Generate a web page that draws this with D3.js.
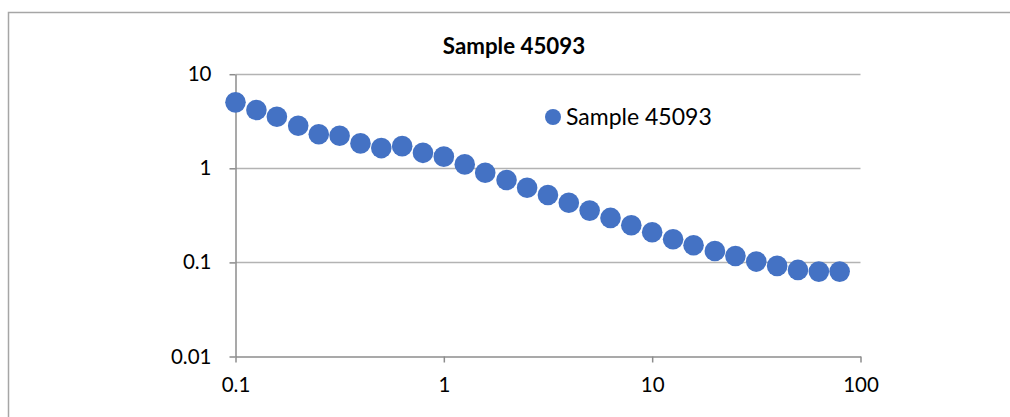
<!DOCTYPE html>
<html>
<head>
<meta charset="utf-8">
<script src="https://cdn.jsdelivr.net/npm/d3@7"></script>
<style>
  body { margin: 0; background: #fff; overflow: hidden; }
  svg { display: block; }
</style>
</head>
<body>
<div id="chart"></div>
<script>
// values
const seriesName = 'Sample 45093';
const xValues = [0.1, 0.126, 0.158, 0.2, 0.251, 0.316, 0.398, 0.501, 0.631, 0.794,
                 1, 1.26, 1.58, 2, 2.51, 3.16, 3.98, 5.01, 6.31, 7.94,
                 10, 12.6, 15.8, 20, 25.1, 31.6, 39.8, 50.1, 63.1, 79.4];
const yValues = [5.02, 4.16, 3.53, 2.83, 2.30, 2.22, 1.84, 1.64, 1.72, 1.46,
                 1.33, 1.10, 0.898, 0.751, 0.622, 0.521, 0.431, 0.355, 0.297, 0.248,
                 0.209, 0.176, 0.152, 0.132, 0.117, 0.102, 0.0918, 0.0832, 0.0798, 0.0798];
const xTicks = [0.1, 1, 10, 100];
const xTickLabels = ['0.1', '1', '10', '100'];
const yTicks = [0.01, 0.1, 1, 10];
const yTickLabels = ['0.01', '0.1', '1', '10'];

const width = 1010, height = 417;
const font = 'Lato, "Liberation Sans", sans-serif';
const blue = '#4472C4';

const svg = d3.select('#chart').append('svg')
  .attr('width', width)
  .attr('height', height);

// chart frame
svg.append('rect')
  .attr('x', 8.5).attr('y', 12.5)
  .attr('width', width).attr('height', height)
  .attr('fill', 'none')
  .attr('stroke', '#a6a6a6')
  .attr('stroke-width', 1.5);

const x = d3.scaleLog().domain([0.1, 100]).range([235.5, 860.5]);
const y = d3.scaleLog().domain([0.01, 10]).range([356.5, 74.2]);

// horizontal gridlines
svg.append('g')
  .selectAll('line')
  .data(yTicks.slice(1))
  .join('line')
  .attr('x1', x(0.1)).attr('x2', x(100))
  .attr('y1', d => Math.round(y(d)) + 0.5)
  .attr('y2', d => Math.round(y(d)) + 0.5)
  .attr('stroke', '#b3b3b3')
  .attr('stroke-width', 1.5);

// x axis
const xAxis = svg.append('g')
  .attr('transform', `translate(0,${y(0.01)})`)
  .call(d3.axisBottom(x)
    .tickValues(xTicks)
    .tickFormat((d, i) => xTickLabels[i])
    .tickSize(6)
    .tickSizeOuter(0)
    .tickPadding(15));

// y axis
const yAxis = svg.append('g')
  .attr('transform', `translate(${x(0.1)},0)`)
  .call(d3.axisLeft(y)
    .tickValues(yTicks)
    .tickFormat((d, i) => yTickLabels[i])
    .tickSize(6)
    .tickSizeOuter(0)
    .tickPadding(18));

[xAxis, yAxis].forEach(g => {
  g.select('.domain').attr('stroke', '#8c8c8c').attr('stroke-width', 1.5);
  g.selectAll('.tick line').attr('stroke', '#8c8c8c').attr('stroke-width', 1.5);
  g.selectAll('.tick text')
    .attr('fill', '#000')
    .style('font-family', font)
    .style('font-size', '20.5px');
});

// markers
const points = xValues.map((v, i) => ({ x: v, y: yValues[i] }));
svg.append('g')
  .selectAll('circle')
  .data(points)
  .join('circle')
  .attr('cx', d => x(d.x))
  .attr('cy', d => y(d.y))
  .attr('r', 10.3)
  .attr('fill', blue);

// title
svg.append('text')
  .attr('x', 514).attr('y', 54)
  .attr('text-anchor', 'middle')
  .style('font-family', font)
  .style('font-weight', 'bold')
  .style('font-size', '22.3px')
  .text(seriesName);

// legend
const legend = svg.append('g').attr('transform', 'translate(553,117)');
legend.append('circle').attr('r', 8).attr('fill', blue);
legend.append('text')
  .attr('x', 13).attr('y', 8)
  .style('font-family', font)
  .style('font-size', '23px')
  .text(seriesName);
</script>
</body>
</html>
